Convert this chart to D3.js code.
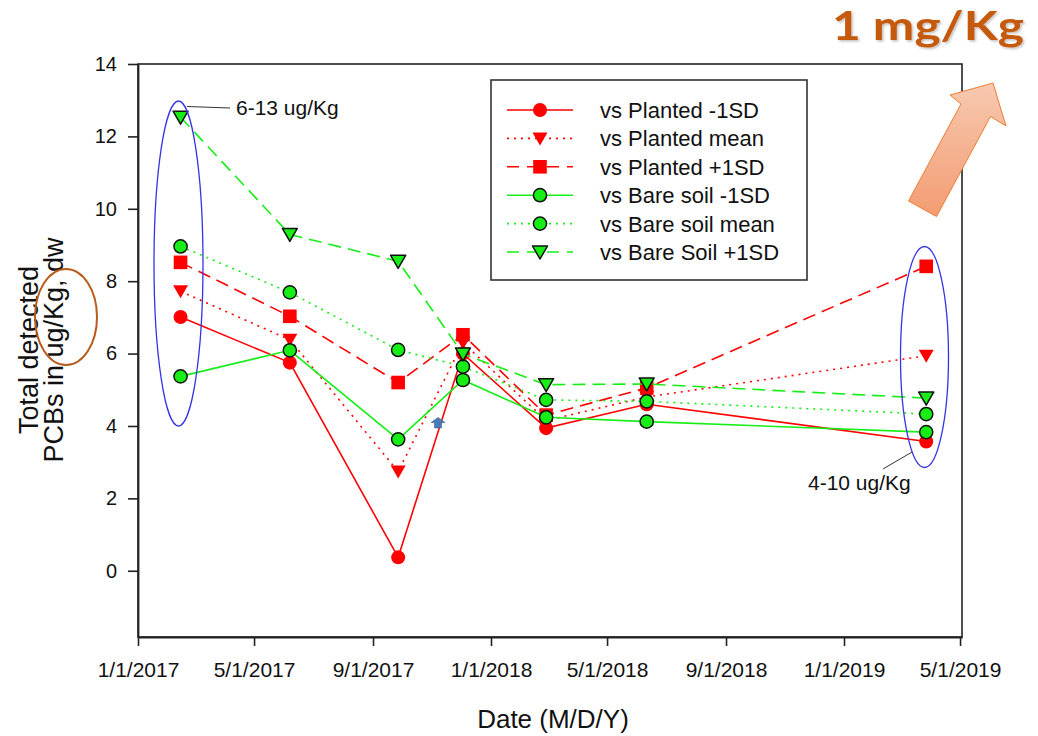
<!DOCTYPE html>
<html>
<head>
<meta charset="utf-8">
<script src="https://cdn.jsdelivr.net/npm/d3@7"></script>
<style>
  body { margin: 0; background: #fff; }
  svg { display: block; font-family: "Liberation Sans", Arial, sans-serif; }
</style>
</head>
<body>
<div id="chart"></div>
<script>
// sampling dates and the six series
const dates = ["2/14/2017", "6/7/2017", "9/27/2017", "12/3/2017", "2/27/2018", "6/11/2018", "3/27/2019"];
const plantedLow = [7.01, 5.75, 0.37, 6.0, 3.94, 4.6, 3.57];
const plantedMean = [7.72, 6.38, 2.74, 6.3, 4.15, 4.8, 5.94];
const plantedHigh = [8.52, 7.03, 5.2, 6.52, 4.3, 5.05, 8.41];
const bareLow = [5.37, 6.09, 3.63, 5.27, 4.24, 4.12, 3.83];
const bareMean = [8.96, 7.69, 6.1, 5.64, 4.72, 4.68, 4.33];
const bareHigh = [12.53, 9.29, 8.55, 5.99, 5.14, 5.16, 4.77];
const seriesNames = ["vs Planted -1SD", "vs Planted mean", "vs Planted +1SD",
                     "vs Bare soil -1SD", "vs Bare soil mean", "vs Bare Soil +1SD"];
const xTicks = ["1/1/2017", "5/1/2017", "9/1/2017", "1/1/2018", "5/1/2018", "9/1/2018", "1/1/2019", "5/1/2019"];
const yTicks = [0, 2, 4, 6, 8, 10, 12, 14];

const parse = d3.timeParse("%m/%d/%Y");
const fmt = d3.timeFormat("%-m/%-d/%Y");
const RED = "#ff0000", GREEN = "#16ee16";

const series = [
  {name: seriesNames[0], values: plantedLow, color: RED, dash: null, shape: "circle", outline: false},
  {name: seriesNames[1], values: plantedMean, color: RED, dash: "2,5", shape: "tri", outline: false},
  {name: seriesNames[2], values: plantedHigh, color: RED, dash: "13,7", shape: "square", outline: false},
  {name: seriesNames[3], values: bareLow, color: GREEN, dash: null, shape: "circle", outline: true},
  {name: seriesNames[4], values: bareMean, color: GREEN, dash: "2,5", shape: "circle", outline: true},
  {name: seriesNames[5], values: bareHigh, color: GREEN, dash: "13,7", shape: "tri", outline: true}
];

const W = 1038, H = 736;
const plot = {left: 138, right: 962, top: 64, bottom: 637};

const svg = d3.select("#chart").append("svg")
  .attr("width", W).attr("height", H);

const x = d3.scaleTime()
  .domain([parse("1/1/2017"), parse("5/3/2019")])
  .range([plot.left, plot.right]);
const y = d3.scaleLinear()
  .domain([-1.83, 14])
  .range([plot.bottom, plot.top]);

// frame
svg.append("rect")
  .attr("x", plot.left).attr("y", plot.top)
  .attr("width", plot.right - plot.left).attr("height", plot.bottom - plot.top)
  .attr("fill", "none").attr("stroke", "#222").attr("stroke-width", 1.6);

const xAxis = d3.axisBottom(x)
  .tickValues(xTicks.map(parse))
  .tickFormat(fmt)
  .tickSize(9).tickPadding(16).tickSizeOuter(0);
const gx = svg.append("g")
  .attr("transform", `translate(0, ${plot.bottom})`)
  .call(xAxis);
gx.selectAll("text").style("font-size", "21px").attr("fill", "#111");

const yAxis = d3.axisLeft(y)
  .tickValues(yTicks)
  .tickSize(10).tickPadding(11).tickSizeOuter(0);
const gy = svg.append("g")
  .attr("transform", `translate(${plot.left}, 0)`)
  .call(yAxis);
gy.selectAll("text").style("font-size", "20px").attr("fill", "#111");

svg.selectAll(".domain").attr("stroke", "#222").attr("stroke-width", 1.8);
svg.selectAll(".tick line").attr("stroke", "#222").attr("stroke-width", 1.6);

// axis titles
svg.append("text")
  .attr("x", 553).attr("y", 728)
  .attr("text-anchor", "middle")
  .style("font-size", "26px").attr("fill", "#111")
  .text("Date (M/D/Y)");

const yt = svg.append("text")
  .attr("transform", "translate(38, 350) rotate(-90)")
  .attr("text-anchor", "middle")
  .style("font-size", "27px").attr("fill", "#111");
yt.append("tspan").attr("x", 0).attr("y", 0).text("Total detected");
yt.append("tspan").attr("x", 0).attr("y", 25).text("PCBs in ug/Kg, dw");

// marker drawing
function marker(g, s, cx, cy) {
  const stroke = s.outline ? "#111" : "none";
  if (s.shape === "circle") {
    g.append("circle").attr("cx", cx).attr("cy", cy).attr("r", s.outline ? 6.6 : 7)
      .attr("fill", s.color).attr("stroke", stroke).attr("stroke-width", 1.5);
  } else if (s.shape === "square") {
    g.append("rect").attr("x", cx - 6.8).attr("y", cy - 6.8)
      .attr("width", 13.6).attr("height", 13.6)
      .attr("fill", s.color);
  } else {
    g.append("path")
      .attr("d", `M${cx - 7.5},${cy - 6} L${cx + 7.5},${cy - 6} L${cx},${cy + 7} Z`)
      .attr("fill", s.color).attr("stroke", stroke).attr("stroke-width", 1.5)
      .attr("stroke-linejoin", "round");
  }
}

const line = d3.line()
  .x((d, i) => x(parse(dates[i])))
  .y(d => y(d));

const marks = svg.append("g");
series.forEach(s => {
  const g = marks.append("g");
  g.append("path")
    .attr("d", line(s.values))
    .attr("fill", "none")
    .attr("stroke", s.color)
    .attr("stroke-width", 1.6)
    .attr("stroke-dasharray", s.dash);
  s.values.forEach((v, i) => marker(g, s, x(parse(dates[i])), y(v)));
});

// legend
const lg = svg.append("g");
lg.append("rect")
  .attr("x", 491).attr("y", 80).attr("width", 316).attr("height", 200)
  .attr("fill", "#fff").attr("stroke", "#333").attr("stroke-width", 1.6);
series.forEach((s, i) => {
  const ly = 110 + i * 28.4;
  lg.append("line")
    .attr("x1", 507).attr("x2", 573).attr("y1", ly).attr("y2", ly)
    .attr("stroke", s.color).attr("stroke-width", 1.6)
    .attr("stroke-dasharray", s.dash ? (s.dash === "2,5" ? "2,5" : "12,8") : null);
  marker(lg, s, 540, ly);
  lg.append("text")
    .attr("x", 600).attr("y", ly + 8)
    .style("font-size", "22px").attr("fill", "#111")
    .text(s.name);
});

// annotations
const ann = svg.append("g");
ann.append("ellipse")
  .attr("cx", 178.5).attr("cy", 263.5).attr("rx", 24.5).attr("ry", 162.5)
  .attr("fill", "none").attr("stroke", "#3434e6").attr("stroke-width", 1.3);
ann.append("ellipse")
  .attr("cx", 924.5).attr("cy", 357).attr("rx", 24).attr("ry", 110.5)
  .attr("fill", "none").attr("stroke", "#3434e6").attr("stroke-width", 1.3);
ann.append("line")
  .attr("x1", 187).attr("y1", 106.5).attr("x2", 230).attr("y2", 108)
  .attr("stroke", "#333").attr("stroke-width", 1);
ann.append("text")
  .attr("x", 236).attr("y", 115)
  .style("font-size", "21px").attr("fill", "#111")
  .text("6-13 ug/Kg");
ann.append("line")
  .attr("x1", 883).attr("y1", 469).attr("x2", 912).attr("y2", 452)
  .attr("stroke", "#333").attr("stroke-width", 1);
ann.append("text")
  .attr("x", 808).attr("y", 490)
  .style("font-size", "21px").attr("fill", "#111")
  .text("4-10 ug/Kg");
ann.append("ellipse")
  .attr("cx", 66).attr("cy", 317).attr("rx", 31).attr("ry", 48)
  .attr("fill", "none").attr("stroke", "#b85c1c").attr("stroke-width", 2);

// little blue arrow
ann.append("path")
  .attr("d", "M438,417.5 L445,422.5 L441.5,422.5 L441.5,428 L434.5,428 L434.5,422.5 L431,422.5 Z")
  .attr("fill", "#4a7ab8").attr("stroke", "#3c679f").attr("stroke-width", 0.6);

// big orange arrow + title
const defs = svg.append("defs");
const grad = defs.append("linearGradient")
  .attr("id", "arrowFill").attr("x1", 0).attr("y1", 0).attr("x2", 0).attr("y2", 1);
grad.append("stop").attr("offset", "0%").attr("stop-color", "#f7c9b0");
grad.append("stop").attr("offset", "100%").attr("stop-color", "#f39c72");
const shadow = defs.append("filter").attr("id", "shadow");
shadow.append("feDropShadow")
  .attr("dx", 1.5).attr("dy", 1.5).attr("stdDeviation", 1)
  .attr("flood-color", "#000").attr("flood-opacity", 0.25);

svg.append("path")
  .attr("d", "M993,83 L1006,126 L990.5,116.5 L936.5,216.5 L908.5,201 L961,104 L950,95 Z")
  .attr("fill", "url(#arrowFill)").attr("stroke", "#ed7d31").attr("stroke-width", 1);

svg.append("text")
  .attr("x", 832).attr("y", 40)
  .attr("textLength", 192).attr("lengthAdjust", "spacingAndGlyphs")
  .style("font-family", "Lato, 'Open Sans', sans-serif")
  .style("font-size", "40px").style("font-weight", "bold")
  .attr("fill", "#c55a11").attr("filter", "url(#shadow)")
  .text("1 mg/Kg");
</script>
</body>
</html>
